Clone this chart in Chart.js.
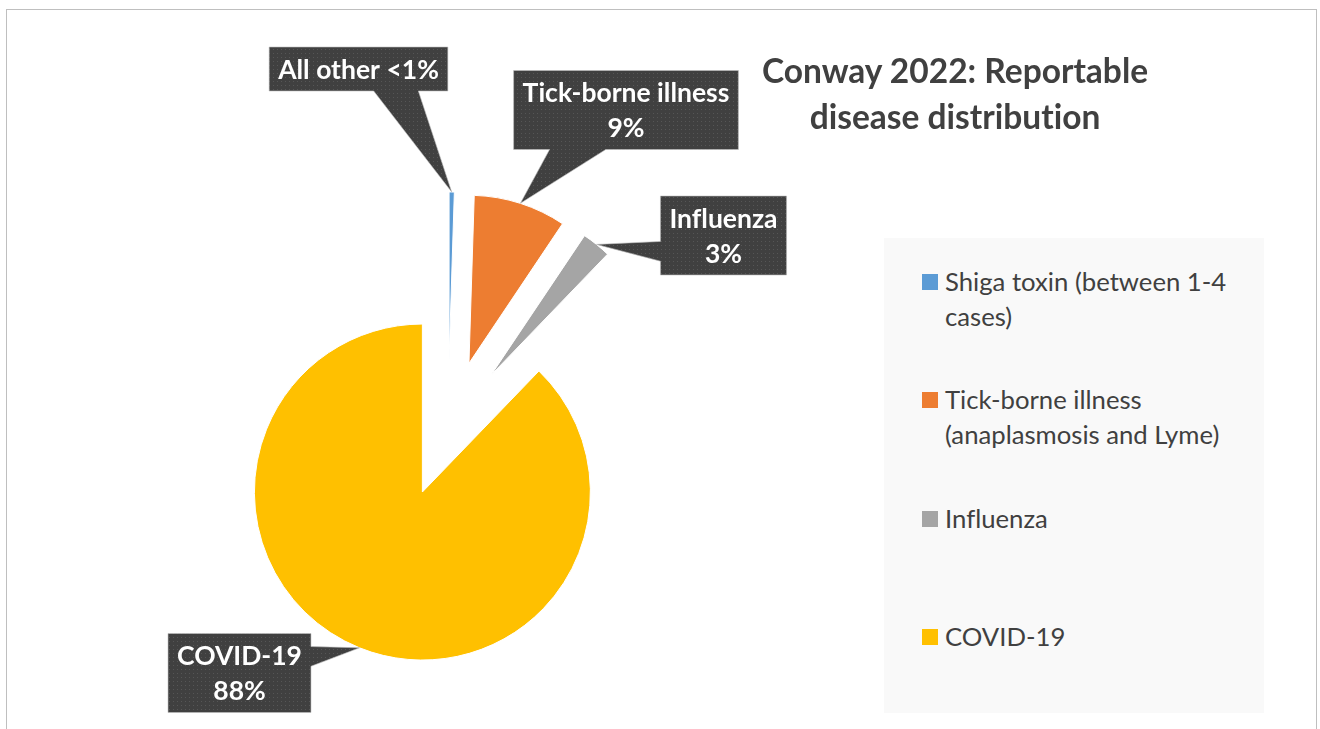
<!DOCTYPE html>
<html>
<head>
<meta charset="utf-8">
<script src="https://cdn.jsdelivr.net/npm/chart.js@4.4.0/dist/chart.umd.min.js"></script>
<style>
  html, body { margin: 0; padding: 0; background: #fff; }
  body { width: 1320px; height: 729px; position: relative; overflow: hidden; font-family: Lato, sans-serif; font-variant-ligatures: none; }
  #frame { position: absolute; left: 6px; top: 9px; width: 1309px; height: 760px; border: 1px solid #bfbfbf; }
  #chart-1 { position: absolute; left: 0; top: 0; }
  #title { position: absolute; left: 705px; top: 47px; width: 500px; text-align: center; font-weight: bold;
           font-size: 33.5px; line-height: 46px; color: #404040; }
  #legend { position: absolute; left: 884px; top: 238px; width: 380px; height: 475px; background: #f9f9f9; }
  .item { position: absolute; left: 38px; padding-left: 23px; font-size: 25.7px; line-height: 35px; color: #404040; white-space: nowrap; }
  .item i { position: absolute; left: 0; top: 10px; width: 16px; height: 16px; }
</style>
</head>
<body>
<div id="frame"></div>
<canvas id="chart-1" width="1320" height="729"></canvas>
<div id="title">Conway 2022: Reportable<br>disease distribution</div>
<div id="legend"></div>
<script>
// data
const categories = [
    ['Shiga toxin (between 1-4', 'cases)'],
    ['Tick-borne illness', '(anaplasmosis and Lyme)'],
    ['Influenza'],
    ['COVID-19'],
];
const calloutNames = ['All other', 'Tick-borne illness', 'Influenza', 'COVID-19'];
const shares = [0.5, 8.9, 2.8, 87.8];
const colors = ['#5b9bd5', '#ed7d31', '#a5a5a5', '#ffc000'];

// layout of the callout boxes (centre, side the pointer leaves from, where along that side)
const calloutBoxes = [
    { cx: 358.5, cy: 69,    side: 'bottom', at: 0.71 },
    { cx: 626,   cy: 110,   side: 'bottom', at: 0.285 },
    { cx: 723.5, cy: 235.5, side: 'left',   at: 0.70 },
    { cx: 239.5, cy: 673,   side: 'right',  at: 0.29 },
];
const EXPLODE = 68.5;

function dotPattern(ctx) {
    const c = document.createElement('canvas');
    c.width = 4; c.height = 4;
    const g = c.getContext('2d');
    g.fillStyle = '#404040';
    g.fillRect(0, 0, 4, 4);
    g.fillStyle = '#565656';
    g.fillRect(1, 1, 1, 1);
    return ctx.createPattern(c, 'repeat');
}

const explode = {
    id: 'explode',
    afterDatasetsUpdate(chart) {
        chart.getDatasetMeta(0).data.forEach(arc => {
            const mid = (arc.startAngle + arc.endAngle) / 2;
            arc.x += Math.cos(mid) * EXPLODE;
            arc.y += Math.sin(mid) * EXPLODE;
        });
    }
};

const callouts = {
    id: 'callouts',
    afterDatasetsDraw(chart) {
        const ctx = chart.ctx;
        const fill = dotPattern(ctx);
        ctx.save();
        ctx.font = 'bold 26.5px Lato';
        chart.getDatasetMeta(0).data.forEach((arc, i) => {
            const box = calloutBoxes[i];
            const mid = (arc.startAngle + arc.endAngle) / 2;
            const tx = arc.x + Math.cos(mid) * arc.outerRadius;
            const ty = arc.y + Math.sin(mid) * arc.outerRadius;
            const v = shares[i];
            const lines = v < 1 ? [calloutNames[i] + ' <1%'] : [calloutNames[i], Math.round(v) + '%'];
            const w = Math.max(...lines.map(l => ctx.measureText(l).width)) + 18;
            const h = lines.length * 35 + 9;
            const x0 = box.cx - w / 2, x1 = box.cx + w / 2;
            const y0 = box.cy - h / 2, y1 = box.cy + h / 2;

            ctx.beginPath();
            if (box.side === 'bottom') {
                const b = x0 + w * box.at, q = w / 8;
                ctx.moveTo(x0, y0); ctx.lineTo(x1, y0); ctx.lineTo(x1, y1);
                ctx.lineTo(b + q, y1); ctx.lineTo(tx, ty); ctx.lineTo(b - q, y1);
                ctx.lineTo(x0, y1);
            } else if (box.side === 'left') {
                const b = y0 + h * box.at, q = h / 8;
                ctx.moveTo(x0, y0); ctx.lineTo(x1, y0); ctx.lineTo(x1, y1); ctx.lineTo(x0, y1);
                ctx.lineTo(x0, b + q); ctx.lineTo(tx, ty); ctx.lineTo(x0, b - q);
            } else {
                const b = y0 + h * box.at, q = h / 8;
                ctx.moveTo(x0, y0); ctx.lineTo(x1, y0);
                ctx.lineTo(x1, b - q); ctx.lineTo(tx, ty); ctx.lineTo(x1, b + q);
                ctx.lineTo(x1, y1); ctx.lineTo(x0, y1);
            }
            ctx.closePath();
            ctx.fillStyle = fill;
            ctx.fill();
            ctx.strokeStyle = 'rgba(190,190,190,0.6)';
            ctx.lineWidth = 1;
            ctx.stroke();

            ctx.fillStyle = '#ffffff';
            ctx.textAlign = 'center';
            ctx.textBaseline = 'middle';
            lines.forEach((l, k) => {
                ctx.fillText(l, box.cx, box.cy - (lines.length - 1) * 17.5 + k * 35 + 1);
            });
        });
        ctx.restore();
    }
};

const pie = new Chart(document.getElementById('chart-1'), {
    type: 'pie',
    data: {
        labels: categories,
        datasets: [{
            data: shares,
            backgroundColor: colors,
            borderColor: '#ffffff',
            borderWidth: 1,
        }]
    },
    options: {
        responsive: false,
        animation: false,
        radius: 168,
        layout: {
            padding: { left: 0, right: 424, top: 128, bottom: 0 }
        },
        plugins: {
            legend: { display: false },
            title: { display: false },
            tooltip: { enabled: false },
        },
    },
    plugins: [explode, callouts]
});

// legend box on the right, built from the chart's own legend items
const legendItems = pie.options.plugins.legend.labels.generateLabels(pie);
const legendEl = document.getElementById('legend');
legendItems.forEach((it, i) => {
    const div = document.createElement('div');
    div.className = 'item';
    div.style.top = (25.5 + i * 118.5) + 'px';
    const sw = document.createElement('i');
    sw.style.background = it.fillStyle;
    div.appendChild(sw);
    const txt = Array.isArray(categories[i]) ? categories[i] : [categories[i]];
    txt.forEach((t, k) => {
        if (k) div.appendChild(document.createElement('br'));
        div.appendChild(document.createTextNode(t));
    });
    legendEl.appendChild(div);
});
</script>
</body>
</html>
